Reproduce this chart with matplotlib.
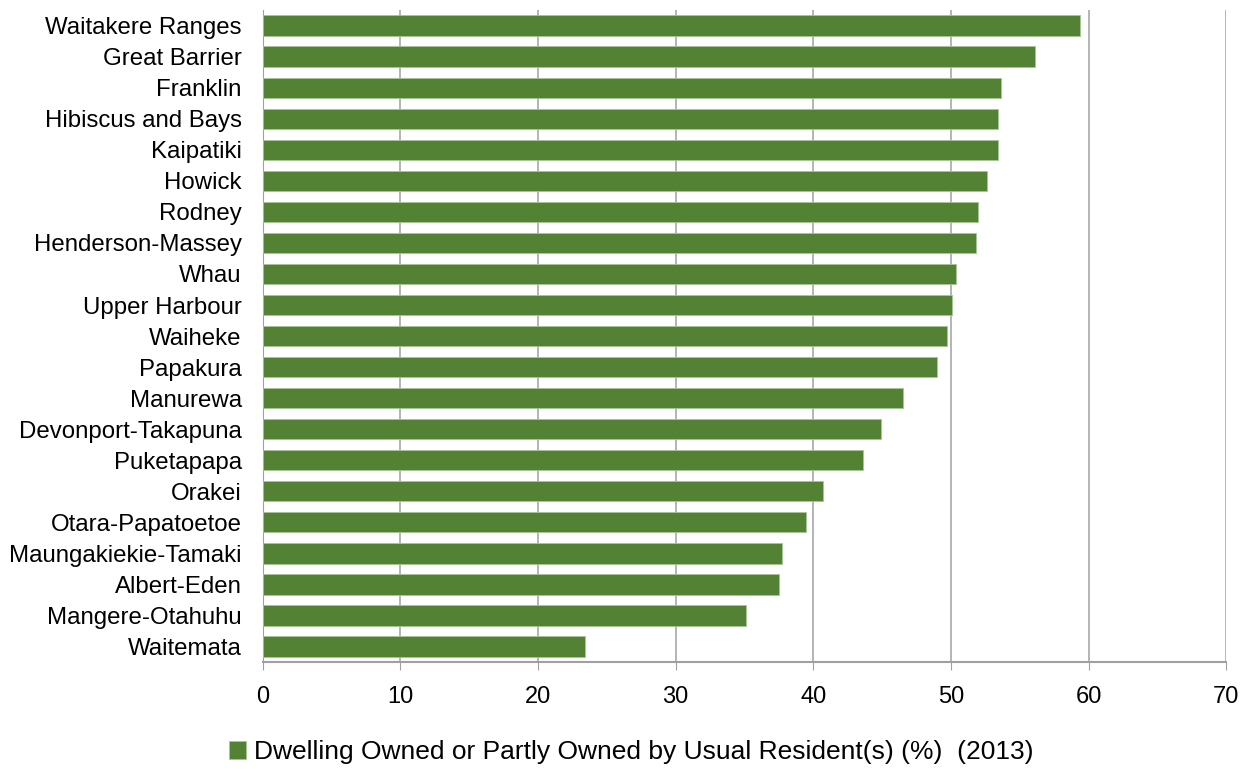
import matplotlib.pyplot as plt

boards = ['Waitakere Ranges', 'Great Barrier', 'Franklin', 'Hibiscus and Bays', 'Kaipatiki',
          'Howick', 'Rodney', 'Henderson-Massey', 'Whau', 'Upper Harbour', 'Waiheke',
          'Papakura', 'Manurewa', 'Devonport-Takapuna', 'Puketapapa', 'Orakei',
          'Otara-Papatoetoe', 'Maungakiekie-Tamaki', 'Albert-Eden', 'Mangere-Otahuhu', 'Waitemata']
owned = [59.35, 56.1, 53.65, 53.45, 53.45, 52.6, 52.0, 51.8, 50.4, 50.1, 49.75,
         49.0, 46.5, 44.9, 43.6, 40.7, 39.5, 37.75, 37.5, 35.1, 23.4]
label = 'Dwelling Owned or Partly Owned by Usual Resident(s) (%)  (2013)'

plt.rcParams['font.family'] = ['Liberation Sans', 'DejaVu Sans']

fig = plt.figure(figsize=(12.5, 7.69), dpi=100)
ax = fig.add_axes([0.21, 0.139, 0.771, 0.848])

pos = list(range(len(boards)))[::-1]
ax.barh(pos, owned, height=0.65, color='#548235', edgecolor='#a9c49a', linewidth=0.6,
        label=label, zorder=3)

ax.set_xlim(0, 70)
ax.set_ylim(-0.5, len(boards) - 0.5)
ax.set_xticks(range(0, 71, 10))
ax.set_yticks(pos)
ax.set_yticklabels(boards, fontsize=17.3)
ax.tick_params(axis='x', labelsize=17, length=6, color='#a0a0a0', pad=11, direction='out')
ax.tick_params(axis='y', length=0, pad=15)
ax.grid(axis='x', color='#a0a0a0', linewidth=1.1, zorder=0)

for s in ['top', 'right']:
    ax.spines[s].set_visible(False)
ax.spines['left'].set_color('#a0a0a0')
ax.spines['bottom'].set_color('#a0a0a0')
ax.spines['bottom'].set_linewidth(1.5)

fig.legend(loc='lower center', bbox_to_anchor=(0.505, -0.025), frameon=False, fontsize=19,
           handlelength=0.65, handleheight=0.65, handletextpad=0.3)

fig.savefig('out.png', dpi=100)
